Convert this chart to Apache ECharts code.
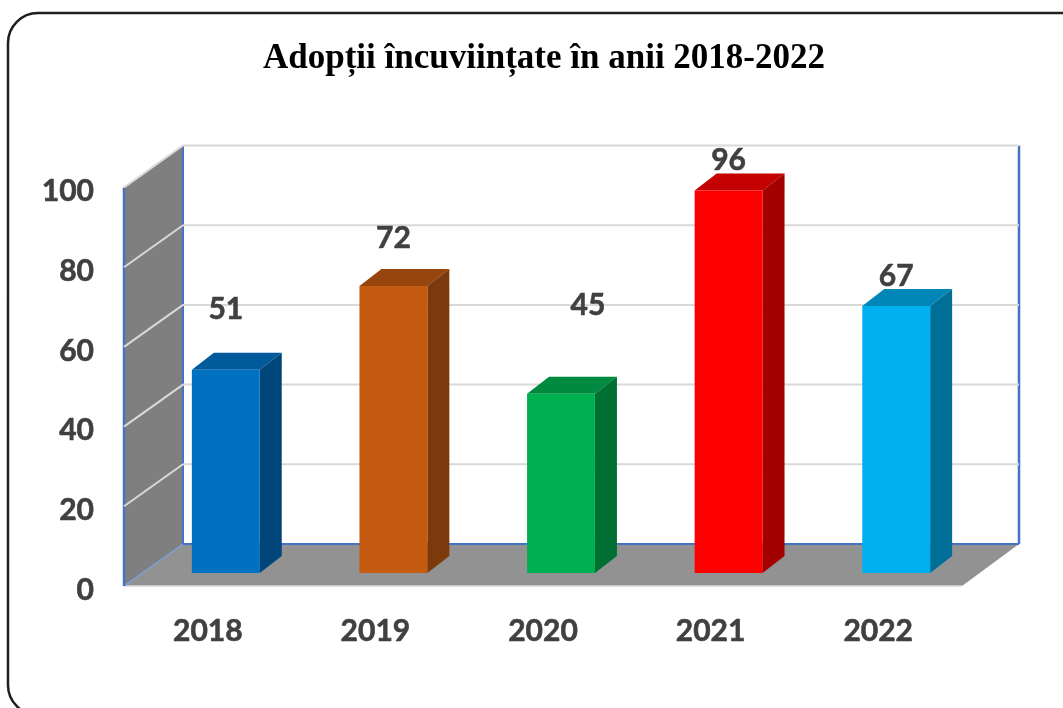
<!DOCTYPE html>
<html>
<head>
<meta charset="utf-8">
<title>Adopții încuviințate</title>
<script src="https://cdn.jsdelivr.net/npm/echarts@6/dist/echarts.min.js"></script>
<style>
  html, body { margin: 0; padding: 0; background: #fff; }
  #chart { width: 1063px; height: 708px; }
</style>
</head>
<body>
<div id="chart"></div>
<script>
const years = ["2018", "2019", "2020", "2021", "2022"];
const adoptions = [51, 72, 45, 96, 67];
const yTicks = [0, 20, 40, 60, 80, 100];

// front, side, top
const barColors = [
  ["#0070c0", "#00467a", "#005a9c"],
  ["#c55a11", "#7c390b", "#96450d"],
  ["#00b050", "#006f32", "#008a3f"],
  ["#ff0000", "#a30000", "#c40000"],
  ["#00b0f0", "#006f98", "#0087b8"],
];
// the labels sit at uneven distances above the bars in the original
const labelShift = [[0, -60], [0, -48], [27, -88], [0, -30], [0, -30]];

const wallDepth = [59, -42];
const wallDepthRight = 57;
const barInset = [18, -13];
const barDepth = [22, -17];
const wallBlue = "#4472c4";
const gridGrey = "#d9d9d9";
const textGrey = "#404040";
const labelFont = "bold 30px Lato";

function poly(points, fill, z2) {
  return { type: "polygon", z2: z2 || 0, shape: { points }, style: { fill } };
}

function seg(x1, y1, x2, y2, stroke, lineWidth, z2) {
  return {
    type: "line",
    z2: z2 || 0,
    shape: { x1, y1, x2, y2 },
    style: { stroke, lineWidth, fill: null },
  };
}

// side wall, floor and blue frame of the 3D box
function renderWalls(params, api) {
  const band = api.size([1, 0])[0];
  const left = api.coord([0, 0])[0] - band / 2;
  const right = api.coord([years.length - 1, 0])[0] + band / 2;
  const y0 = api.coord([0, 0])[1];
  const yMax = api.coord([0, 100])[1];
  const dx = wallDepth[0];
  const dy = wallDepth[1];
  const backRight = right + wallDepthRight;
  return {
    type: "group",
    children: [
      poly([[left, y0], [right, y0], [backRight, y0 + dy], [left + dx, y0 + dy]], "#929292"),
      poly([[left, yMax], [left + dx, yMax + dy], [left + dx, y0 + dy], [left, y0]], "#7f7f7f"),
      seg(left, y0, right, y0, "#d9d9d9", 1.5, 1),
      seg(left, y0, left + dx, y0 + dy, "#7f9fdc", 1.5, 3),
      seg(left, yMax, left + dx, yMax + dy, "#c3cde0", 1.5, 3),
      seg(left, yMax, left, y0, wallBlue, 2.5, 3),
      seg(left + dx, yMax + dy, left + dx, y0 + dy, wallBlue, 2, 3),
      seg(backRight, yMax + dy, backRight, y0 + dy, wallBlue, 2.5, 3),
      seg(left + dx, y0 + dy, backRight, y0 + dy, wallBlue, 2, 3),
    ],
  };
}

// one grid line per tick, running along the side wall and the back wall
function renderGridLine(params, api) {
  const value = api.value(0);
  if (value === 0) return { type: "group", children: [] };
  const band = api.size([1, 0])[0];
  const left = api.coord([0, value])[0] - band / 2;
  const right = api.coord([years.length - 1, value])[0] + band / 2;
  const y = api.coord([0, value])[1];
  const dx = wallDepth[0];
  const dy = wallDepth[1];
  return {
    type: "group",
    children: [
      seg(left, y, left + dx, y + dy, gridGrey, 2),
      seg(left + dx, y + dy, right + wallDepthRight, y + dy, gridGrey, 2),
    ],
  };
}

function renderBar(params, api) {
  const i = api.value(0);
  const value = api.value(1);
  const center = api.coord([i, 0])[0];
  const half = api.size([1, 0])[0] * 0.405 / 2;
  const x1 = center - half + barInset[0];
  const x2 = center + half + barInset[0];
  const bottom = api.coord([i, 0])[1] + barInset[1];
  const top = api.coord([i, value])[1] + barInset[1];
  const dx = barDepth[0];
  const dy = barDepth[1];
  const colors = barColors[i];
  return {
    type: "group",
    children: [
      poly([[x1, top], [x2, top], [x2 + dx, top + dy], [x1 + dx, top + dy]], colors[2]),
      poly([[x2, top], [x2 + dx, top + dy], [x2 + dx, bottom + dy], [x2, bottom]], colors[1]),
      { type: "rect", shape: { x: x1, y: top, width: x2 - x1, height: bottom - top }, style: { fill: colors[0] } },
      {
        type: "text",
        z2: 5,
        x: (x1 + x2) / 2 + labelShift[i][0],
        y: top + labelShift[i][1],
        style: {
          text: String(value),
          font: labelFont,
          fill: textGrey,
          stroke: textGrey,
          lineWidth: 0.6,
          align: "center",
          verticalAlign: "middle",
        },
      },
    ],
  };
}

const chart = echarts.init(document.getElementById("chart"), null, { renderer: "canvas" });

chart.setOption({
  animation: false,
  backgroundColor: "#ffffff",
  title: {
    text: "Adopții încuviințate în anii 2018-2022",
    left: 539,
    top: 36,
    textAlign: "center",
    textStyle: {
      fontFamily: "Liberation Serif",
      fontWeight: "bold",
      fontSize: 35,
      color: "#000000",
    },
  },
  graphic: [
    {
      type: "rect",
      silent: true,
      z: -1,
      shape: { x: 8, y: 13, width: 1100, height: 702, r: 30 },
      style: { fill: null, stroke: "#1f1f1f", lineWidth: 2.5 },
    },
  ],
  grid: { left: 124, right: 101, top: 187.5, bottom: 122 },
  xAxis: {
    type: "category",
    data: years,
    axisLine: { show: false },
    axisTick: { show: false },
    splitLine: { show: false },
    axisLabel: {
      margin: 30,
      fontFamily: "Lato",
      fontWeight: "bold",
      fontSize: 30,
      color: textGrey,
      textBorderColor: textGrey,
      textBorderWidth: 0.6,
    },
  },
  yAxis: {
    type: "value",
    min: 0,
    max: 100,
    interval: 20,
    axisLine: { show: false },
    axisTick: { show: false },
    splitLine: { show: false },
    axisLabel: {
      margin: 30,
      verticalAlign: "top",
      lineHeight: 8,
      fontFamily: "Lato",
      fontWeight: "bold",
      fontSize: 30,
      color: textGrey,
      textBorderColor: textGrey,
      textBorderWidth: 0.6,
    },
  },
  series: [
    {
      type: "custom",
      name: "walls",
      z: 1,
      silent: true,
      renderItem: renderWalls,
      data: [[0]],
      encode: { x: -1, y: -1 },
    },
    {
      type: "custom",
      name: "grid",
      z: 2,
      silent: true,
      renderItem: renderGridLine,
      data: yTicks.map((t) => [t]),
      encode: { x: -1, y: 0 },
    },
    {
      type: "custom",
      name: "Adopții",
      z: 3,
      renderItem: renderBar,
      data: adoptions.map((v, i) => [i, v]),
      encode: { x: 0, y: 1 },
    },
  ],
});
</script>
</body>
</html>
